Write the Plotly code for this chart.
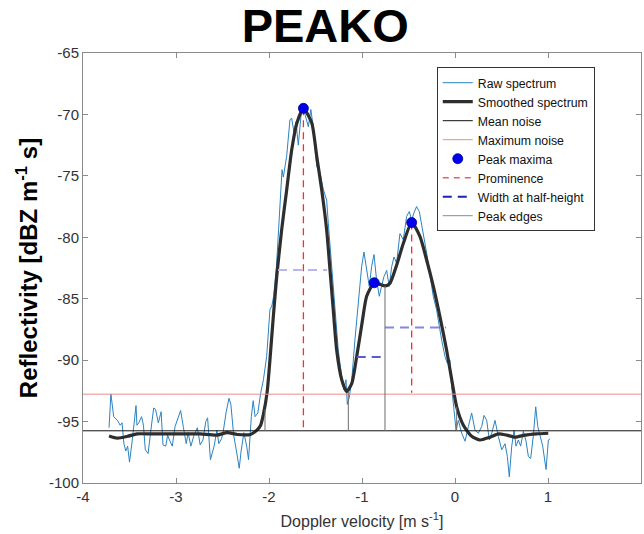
import plotly.graph_objects as go

# ---------------- data ----------------
raw_x = [-3.72, -3.70, -3.67, -3.63, -3.60, -3.58, -3.56, -3.54, -3.52, -3.50, -3.47, -3.45, -3.43, -3.42,
         -3.40, -3.37, -3.35, -3.33, -3.30, -3.27, -3.24, -3.22, -3.19, -3.16, -3.14, -3.11, -3.09, -3.07,
         -3.04, -3.01, -2.97, -2.95, -2.92, -2.89, -2.87, -2.84, -2.81, -2.77, -2.74, -2.71, -2.68, -2.66,
         -2.63, -2.59, -2.56, -2.54, -2.51, -2.49, -2.46, -2.43, -2.41, -2.38, -2.35, -2.32, -2.30, -2.27,
         -2.24, -2.22, -2.19, -2.17, -2.15, -2.12, -2.09, -2.06, -2.025, -1.99, -1.97, -1.95, -1.92, -1.89,
         -1.86, -1.846, -1.81, -1.775, -1.757, -1.73, -1.71, -1.685, -1.65, -1.613, -1.577, -1.55, -1.516,
         -1.488, -1.45, -1.416, -1.38, -1.362, -1.326, -1.29, -1.255, -1.219, -1.194, -1.172, -1.158, -1.136,
         -1.11, -1.076, -1.04, -1.004, -0.979, -0.95, -0.922, -0.897, -0.871, -0.843, -0.814, -0.79, -0.764,
         -0.735, -0.707, -0.681, -0.656, -0.628, -0.592, -0.556, -0.52, -0.491, -0.466, -0.441, -0.413,
         -0.384, -0.359, -0.323, -0.298, -0.27, -0.234, -0.198, -0.169, -0.144, -0.108, -0.083, -0.054,
         -0.036, 0.011, 0.036, 0.072, 0.108, 0.144, 0.179, 0.215, 0.251, 0.287, 0.312, 0.341, 0.369, 0.395,
         0.43, 0.466, 0.502, 0.538, 0.563, 0.584, 0.61, 0.635, 0.656, 0.681, 0.706, 0.735, 0.764, 0.789,
         0.814, 0.843, 0.868, 0.89, 0.914, 0.943, 0.979, 1.004, 1.022]
raw_y = [-95.5, -92.75, -94.6, -94.9, -95.3, -95.1, -96.8, -97.4, -97.0, -98.3, -96.5, -94.9, -93.7, -95.3,
         -95.1, -94.6, -95.3, -97.3, -97.6, -95.7, -93.9, -94.0, -95.1, -94.2, -96.9, -97.0, -96.1, -96.5,
         -97.0, -95.4, -94.6, -94.1, -95.5, -96.8, -95.9, -97.0, -96.2, -95.5, -96.9, -96.5, -95.0, -94.7,
         -98.1, -97.0, -95.7, -96.8, -96.4, -95.7, -94.2, -93.1, -93.6, -96.1, -97.4, -98.8, -97.4, -95.9,
         -97.0, -98.1, -94.6, -93.3, -94.6, -94.3, -92.7, -91.6, -89.7, -85.9, -85.6, -84.8, -82.4, -78.3,
         -74.5, -75.1, -73.4, -70.45, -70.3, -71.5, -70.6, -72.5, -69.6, -70.0, -71.0, -69.6, -71.5,
         -74.2, -74.8, -76.1, -76.96, -78.9, -82.4, -85.4, -89.2, -91.3, -92.4, -91.6, -93.6, -93.0,
         -91.6, -88.35, -85.6, -82.4, -81.2, -82.7, -84.0, -82.4, -81.4, -83.5, -84.8, -84.0, -83.2,
         -82.7, -84.0, -82.4, -81.6, -82.1, -79.7, -80.2, -78.3, -77.9, -78.6, -78.0, -77.5,
         -77.9, -79.1, -80.5, -81.6, -83.2, -84.8, -85.9, -87.3, -88.35, -89.7, -90.25, -89.98,
         -92.15, -95.7, -94.9, -95.95, -96.6, -95.4, -94.3, -95.7, -95.95, -95.4, -94.5, -94.9, -96.5, -95.95,
         -94.9, -96.2, -97.3, -96.8, -97.85, -99.5, -97.0, -95.7, -97.0, -96.5, -97.0, -95.8, -96.6, -97.85,
         -98.0, -96.1, -93.8, -95.4, -96.2, -97.0, -98.9, -96.5, -96.4]

smooth_x = [-3.72, -3.63, -3.52, -3.42, -3.27, -3.09, -2.91, -2.74, -2.56, -2.45, -2.34, -2.20, -2.13,
            -2.09, -2.06, -2.02, -1.99, -1.954, -1.917, -1.864, -1.81, -1.756, -1.70, -1.63, -1.54, -1.487,
            -1.433, -1.38, -1.344, -1.309, -1.272, -1.218, -1.165, -1.11, -1.057, -1.0, -0.95, -0.868,
            -0.80, -0.753, -0.70, -0.627, -0.556, -0.466, -0.376, -0.305, -0.233, -0.161, -0.09, -0.035,
            0.018, 0.09, 0.18, 0.269, 0.376, 0.466, 0.556, 0.645, 0.753, 0.878, 1.003]
smooth_y = [-96.17, -96.35, -96.2, -96.0, -96.0, -96.0, -96.0, -96.0, -96.1, -95.9, -96.05, -96.05, -95.7,
            -95.3, -94.4, -92.6, -90.0, -86.5, -83.2, -79.4, -76.15, -72.9, -70.7, -69.5, -70.7, -73.4,
            -76.15, -79.4, -82.66, -85.9, -89.2, -91.6, -92.56, -91.9, -89.7, -87.0, -84.8, -83.7,
            -83.85, -83.96, -83.75, -82.25, -80.5, -78.8, -79.95, -81.85, -84.0, -86.5, -89.2, -91.6,
            -93.8, -95.3, -96.2, -96.5, -96.27, -96.0, -96.1, -96.27, -96.1, -96.0, -95.95]

mean_noise = -95.75
max_noise = -92.77
noise_x = [-4, 2]

peak_x = [-1.63, -0.868, -0.466]
peak_y = [-69.5, -83.7, -78.8]
prom_base = [-95.75, -83.96, -92.66]

width_y = [-82.66, -89.74, -87.35]
width_left = [-1.903, -1.057, -0.753]
width_right = [-1.376, -0.753, -0.097]
width_colors = ["#b8b8ee", "#5a5ad6", "#8686e4"]

edge_x = [-2.043, -1.147, -0.753, 0.018]
edge_top = [-94.0, -92.56, -83.96, -93.8]

x_ticks = [-4, -3, -2, -1, 0, 1, 2]
x_ticktext = ["-4", "-3", "-2", "-1", "0", "1", "2"]
y_ticks = [-100, -95, -90, -85, -80, -75, -70, -65]
y_ticktext = ["-100", "-95", "-90", "-85", "-80", "-75", "-70", "-65"]

# ---------------- figure ----------------
FONT = "Liberation Sans, Arial, Helvetica, sans-serif"
fig = go.Figure()

fig.add_trace(go.Scatter(x=raw_x, y=raw_y, mode="lines", name="Raw spectrum",
                         line=dict(color="#2b83c2", width=1)))
fig.add_trace(go.Scatter(x=smooth_x, y=smooth_y, mode="lines", name="Smoothed spectrum",
                         line=dict(color="#2e2e2e", width=3.2, shape="spline", smoothing=0.6)))
fig.add_trace(go.Scatter(x=noise_x, y=[mean_noise] * len(noise_x), mode="lines", name="Mean noise",
                         line=dict(color="#111111", width=1)))
fig.add_trace(go.Scatter(x=noise_x, y=[max_noise] * len(noise_x), mode="lines", name="Maximum noise",
                         line=dict(color="#ee8a8a", width=1)))

# prominence lines
px_, py_ = [], []
for x, top, base in zip(peak_x, peak_y, prom_base):
    px_ += [x, x, None]
    py_ += [top, base, None]
fig.add_trace(go.Scatter(x=px_, y=py_, mode="lines", name="Prominence", showlegend=False,
                         legendgroup="prom", line=dict(color="#ff2a2a", width=1.3, dash="7px,5px")))

# width at half height
for i, (yv, xl, xr, c) in enumerate(zip(width_y, width_left, width_right, width_colors)):
    fig.add_trace(go.Scatter(x=[xl, xr], y=[yv, yv], mode="lines", showlegend=False,
                             legendgroup="width", line=dict(color=c, width=2, dash="9px,6px")))

# peak edges
ex, ey = [], []
for x, top in zip(edge_x, edge_top):
    ex += [x, x, None]
    ey += [mean_noise, top, None]
fig.add_trace(go.Scatter(x=ex, y=ey, mode="lines", showlegend=False, legendgroup="edges",
                         line=dict(color="#6e6e6e", width=1)))

fig.add_trace(go.Scatter(x=peak_x, y=peak_y, mode="markers", name="Peak maxima",
                         marker=dict(color="#0000ee", size=10, line=dict(color="#00008a", width=0.8))))

# legend entries for grouped line sets
fig.add_trace(go.Scatter(x=[None], y=[None], mode="lines", name="Prominence", legendgroup="prom",
                         line=dict(color="#e8606a", width=1.5, dash="6px,5px")))
fig.add_trace(go.Scatter(x=[None], y=[None], mode="lines", name="Width at half-height", legendgroup="width",
                         line=dict(color="#2020b0", width=2, dash="9px,6px")))
fig.add_trace(go.Scatter(x=[None], y=[None], mode="lines", name="Peak edges", legendgroup="edges",
                         line=dict(color="#8a8a8a", width=1)))

axis_common = dict(showline=True, mirror="allticks", linecolor="#8a8a8a", linewidth=1,
                   ticks="inside", ticklen=5, tickcolor="#8a8a8a", showgrid=False, zeroline=False,
                   tickfont=dict(family=FONT, size=15, color="#333333"))

fig.update_layout(
    width=644, height=534,
    margin=dict(l=83, r=3, t=53, b=51),
    paper_bgcolor="white", plot_bgcolor="white",
    title=dict(text="PEAKO", x=0.505, xref="container", xanchor="center", y=0.953, yref="container",
               yanchor="middle", font=dict(family=FONT, size=47, color="black", weight="bold")),
    xaxis=dict(range=[-4, 2], tickvals=x_ticks, ticktext=x_ticktext,
               title=dict(text="Doppler velocity [m s<sup>-1</sup>]", standoff=11,
                          font=dict(family=FONT, size=16, color="#333333")),
               **axis_common),
    yaxis=dict(range=[-100, -65], tickvals=y_ticks, ticktext=y_ticktext,
               title=dict(text="<b>Reflectivity [dBZ m<sup>-1</sup> s]</b>", standoff=4,
                          font=dict(family=FONT, size=24, color="black")),
               **axis_common),
    legend=dict(x=0.634, y=0.967, xanchor="left", yanchor="top", bgcolor="white",
                bordercolor="#333333", borderwidth=1, tracegroupgap=0, entrywidth=140,
                font=dict(family=FONT, size=12.3, color="#111111"), itemwidth=30),
    showlegend=True,
)

fig.write_html("out.html")
